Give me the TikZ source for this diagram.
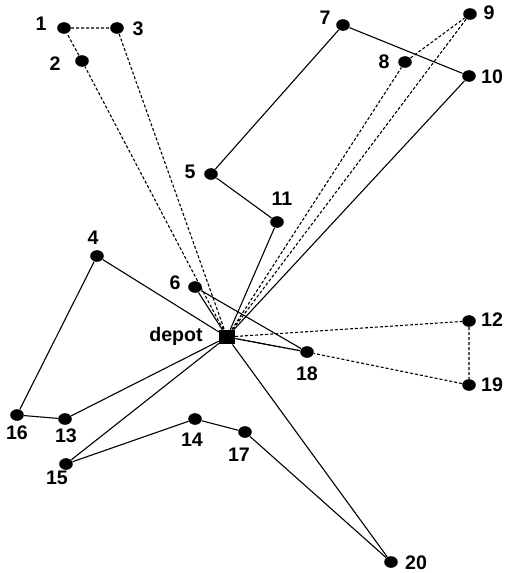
\documentclass[tikz,border=0pt]{standalone}
\usepackage{fontspec}
\setmainfont{Liberation Sans}
\usetikzlibrary{shapes.geometric}

\tikzstyle{cust} =[ellipse, fill=black, inner sep=0pt, minimum width=6.8pt, minimum height=5.8pt]
\tikzstyle{depotbox} =[rectangle, fill=black, inner sep=0pt, minimum width=7.8pt, minimum height=7pt]
\tikzstyle{lab} =[inner sep=0pt, font=\bfseries\fontsize{9.8pt}{9.8pt}\selectfont]
\tikzstyle{route} = [draw, line width=0.55pt]
\tikzstyle{dashroute} = [draw, line width=0.55pt, dash pattern=on 1.5pt off 1pt]

\begin{document}
\begin{tikzpicture}[x=0.5pt, y=-0.5pt]

  \useasboundingbox (0,0) rectangle (504,573);

  % customers and depot
  \node[depotbox] (depot) at (227,337) {};
  \node[cust] (c1) at (64,28) {};
  \node[cust] (c2) at (82,61) {};
  \node[cust] (c3) at (117,28) {};
  \node[cust] (c4) at (97,256) {};
  \node[cust] (c5) at (211,174) {};
  \node[cust] (c6) at (195,287) {};
  \node[cust] (c7) at (343,25) {};
  \node[cust] (c8) at (405,62) {};
  \node[cust] (c9) at (470,14) {};
  \node[cust] (c10) at (469,76) {};
  \node[cust] (c11) at (277,222) {};
  \node[cust] (c12) at (469,321) {};
  \node[cust] (c13) at (65,419) {};
  \node[cust] (c14) at (195,419) {};
  \node[cust] (c15) at (66,464) {};
  \node[cust] (c16) at (17,415) {};
  \node[cust] (c17) at (245,432) {};
  \node[cust] (c18) at (307,352) {};
  \node[cust] (c19) at (469,385) {};
  \node[cust] (c20) at (391,562) {};

  % labels
  \node[lab] (ldepot) at (176,336) {depot};
  \node[lab] (l1) at (41,24) {1};
  \node[lab] (l2) at (55,64) {2};
  \node[lab] (l3) at (138,29) {3};
  \node[lab] (l4) at (93,238) {4};
  \node[lab] (l5) at (190,172) {5};
  \node[lab] (l6) at (175,283) {6};
  \node[lab] (l7) at (325,18) {7};
  \node[lab] (l8) at (384,62) {8};
  \node[lab] (l9) at (489,13) {9};
  \node[lab] (l10) at (492,77) {10};
  \node[lab] (l11) at (282,199) {11};
  \node[lab] (l12) at (492,320) {12};
  \node[lab] (l13) at (66,436) {13};
  \node[lab] (l14) at (192,440) {14};
  \node[lab] (l15) at (57,478) {15};
  \node[lab] (l16) at (17,433) {16};
  \node[lab] (l17) at (239,455) {17};
  \node[lab] (l18) at (307,374) {18};
  \node[lab] (l19) at (492,385) {19};
  \node[lab] (l20) at (416,563) {20};

  % solid routes
  \path [route] (depot) -- (c11) -- (c5) -- (c7) -- (c10) -- (depot);
  \path [route] (depot) -- (c4) -- (c16) -- (c13) -- (depot);
  \path [route] (depot) -- (c15) -- (c14) -- (c17) -- (c20) -- (depot);
  \path [route] (depot) -- (c6) -- (c18) -- (depot);

  % dashed routes
  \path [dashroute] (depot) -- (c2) -- (c1) -- (c3) -- (depot);
  \path [dashroute] (depot) -- (c8) -- (c9) -- (depot);
  \path [dashroute] (depot) -- (c12) -- (c19) -- (c18) -- (depot);

\end{tikzpicture}
\end{document}
